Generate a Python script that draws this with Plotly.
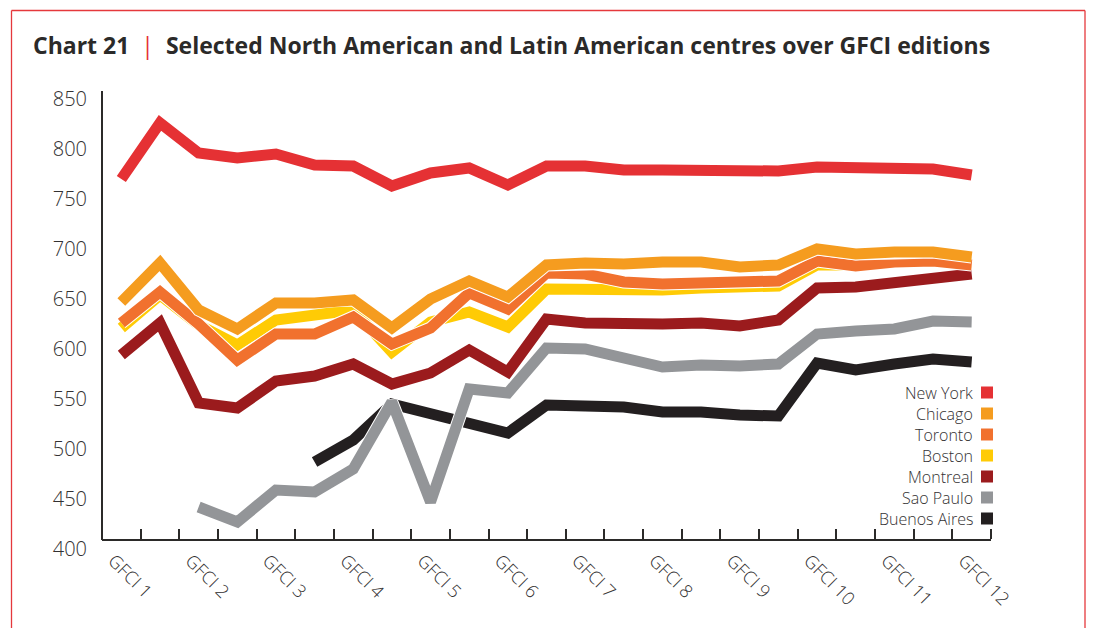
import plotly.graph_objects as go

# ---------------- data ----------------
editions = ["GFCI 1", "GFCI 2", "GFCI 3", "GFCI 4", "GFCI 5", "GFCI 6",
            "GFCI 7", "GFCI 8", "GFCI 9", "GFCI 10", "GFCI 11", "GFCI 12"]
n_points = 23
x_vals = list(range(n_points))

new_york = [770, 826, 796, 791, 795, 784, 783, 763, 776, 781, 764, 783,
            783, 779, 779, 779, 778, 778, 782, 782, 781, 780, 774]
chicago = [647, 686, 639, 620, 646, 646, 649, 621, 650, 668, 652, 684,
           686, 685, 687, 687, 682, 684, 700, 695, 697, 697, 692]
toronto = [626, 657, 625, 589, 615, 615, 632, 605, 621, 656, 640, 676,
           675, 667, 665, 666, 666, 668, 688, 683, 687, 688, 684]
boston = [621, 654, 624, 604, 629, 633, 639, 597, 627, 637, 622, 660,
          660, 658, 659, 661, 661, 663, 684, 684, 687, 688, 686]
montreal = [594, 626, 546, 541, 568, 573, 585, 565, 576, 599, 577, 630,
            626, 625, 625, 626, 623, 629, 661, 662, 667, 671, 675]
sao_paulo = [None, None, 442, 427, 459, 457, 480, 547, 447, 560, 556, 601,
             600, 592, 582, 584, 583, 585, 615, 618, 620, 628, 627]
buenos_aires = [None, None, None, None, None, 487, 509, 545, 536, 527, 516, 544,
                544, 542, 537, 537, 534, 533, 586, 579, 585, 590, 587]

series_names = ["New York", "Chicago", "Toronto", "Boston", "Montreal",
                "Sao Paulo", "Buenos Aires"]
series_values = [new_york, chicago, toronto, boston, montreal, sao_paulo, buenos_aires]
series_colors = ["#e53134", "#f59c1f", "#f1712e", "#ffcb05", "#9b1b1d",
                 "#939598", "#231f20"]

y_ticks = [400, 450, 500, 550, 600, 650, 700, 750, 800, 850]

# ---------------- layout geometry (pixels) ----------------
W, H = 1093, 628
L, R, T, B = 102, 102, 91, 79
PW, PH = W - L - R, H - T - B


def px(xp):
    return (xp - L) / PW


def py(yp):
    return (H - B - yp) / PH


TEXT = "#2b2a29"
LABEL = "#333132"
FONT = "Open Sans"
FRAME = "#e5383c"

fig = go.Figure()

# draw last series first so New York ends on top
for name, vals, col in reversed(list(zip(series_names, series_values, series_colors))):
    fig.add_trace(go.Scatter(x=x_vals, y=vals, mode="lines", showlegend=False,
                             line=dict(color="white", width=13), hoverinfo="skip"))
    fig.add_trace(go.Scatter(x=x_vals, y=vals, mode="lines", name=name, showlegend=False,
                             line=dict(color=col, width=11)))

x_axis_px = 540  # pixel row of the x axis line

fig.update_layout(
    width=W, height=H,
    margin=dict(l=L, r=R, t=T, b=B, pad=0),
    paper_bgcolor="white", plot_bgcolor="white",
    font=dict(family=FONT, color=TEXT),
    showlegend=False,
    xaxis=dict(
        range=[-0.5, n_points - 0.5],
        tickmode="array",
        tickvals=x_vals[::2],
        ticktext=editions,
        tickangle=45,
        ticks="",
        ticklabelshift=-8,
        ticklabelstandoff=2,
        tickfont=dict(size=18, family=FONT, color=LABEL, weight=300),
        showgrid=False, zeroline=False,
        showline=True, linecolor=TEXT, linewidth=2,
        anchor="free", position=py(x_axis_px),
        minor=dict(tickvals=[i - 0.5 for i in range(n_points + 1)],
                   ticks="inside", ticklen=10, tickwidth=2, tickcolor=TEXT,
                   showgrid=False),
    ),
    yaxis=dict(
        range=[400, 400 + PH],
        tickmode="array", tickvals=y_ticks,
        ticks="", ticklabelstandoff=14,
        tickfont=dict(size=20, family=FONT, color=LABEL, weight=300),
        showgrid=False, zeroline=False, showline=False,
    ),
)

# y axis line (from x axis up to top)
fig.add_shape(type="line", xref="paper", yref="paper", x0=0, x1=0,
              y0=py(x_axis_px), y1=1, line=dict(color=TEXT, width=2))

# outer red frame (open at the bottom, runs off the page)
for (x0, y0, x1, y1) in [(11.5, 10.5, 1085, 10.5), (11.5, 10.5, 11.5, 640),
                         (1085, 10.5, 1085, 640)]:
    fig.add_shape(type="line", xref="paper", yref="paper",
                  x0=px(x0), y0=py(y0), x1=px(x1), y1=py(y1),
                  line=dict(color=FRAME, width=1.3), layer="below")

# title
fig.add_annotation(
    xref="paper", yref="paper", x=px(31), y=py(45), xanchor="left", yanchor="middle",
    showarrow=False, align="left",
    text="<b>Chart 21 </b> <span style='color:#e53134'>|</span> <b> Selected North American and Latin American centres over GFCI editions</b>",
    font=dict(size=23, family=FONT, color=TEXT),
)

# legend (text on the left, colour square on the right)
leg_top, leg_step = 392.5, 21
for i, (name, col) in enumerate(zip(series_names, series_colors)):
    yc = leg_top + i * leg_step
    fig.add_annotation(xref="paper", yref="paper", x=px(975), y=py(yc),
                       xanchor="right", yanchor="middle", showarrow=False,
                       text=name, font=dict(size=16, family=FONT, color=LABEL, weight=300))
    fig.add_shape(type="rect", xref="paper", yref="paper",
                  x0=px(981), x1=px(993), y0=py(yc + 6), y1=py(yc - 6),
                  line=dict(width=0), fillcolor=col)

fig.write_html("out.html", config={"displayModeBar": False},
               post_script="document.body.style.margin='0px';document.body.style.overflow='hidden';")
